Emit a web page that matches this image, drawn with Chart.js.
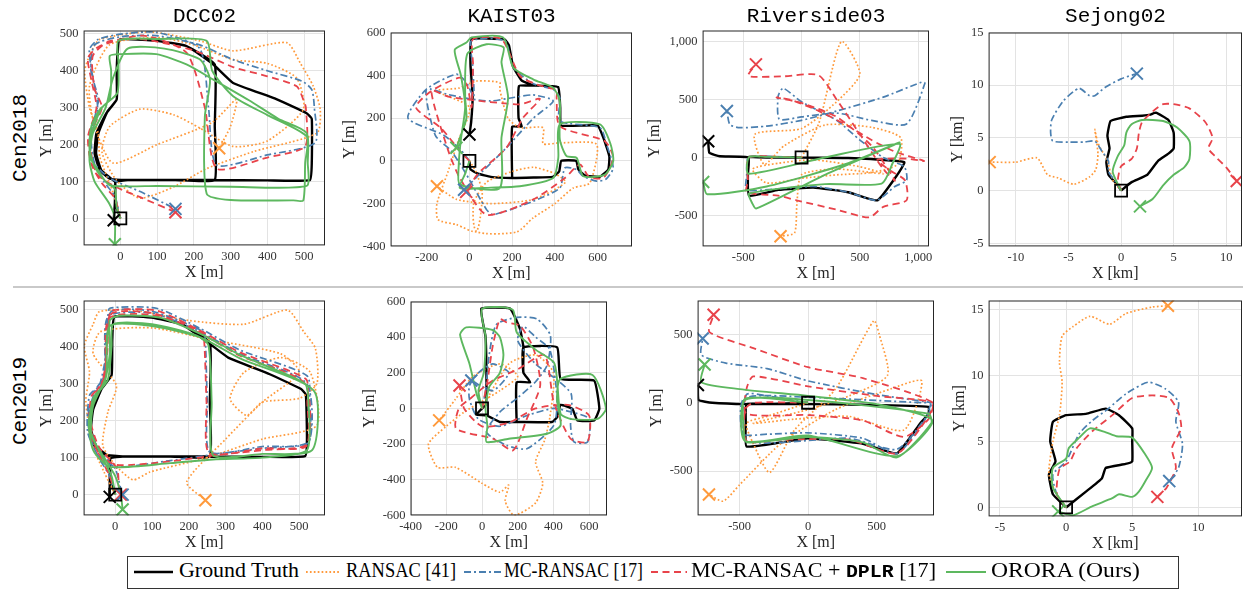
<!DOCTYPE html>
<html>
<head>
<meta charset="utf-8">
<script src="https://cdn.jsdelivr.net/npm/chart.js@4.4.0/dist/chart.umd.min.js"></script>
<style>
  html, body { margin: 0; padding: 0; background: #fff; overflow: hidden; }
  #fig { position: relative; width: 1248px; height: 591px; }
  #fig canvas { position: absolute; }
  .ttl { position: absolute; font: 21px 'Liberation Mono', monospace; color: #000; transform: translate(-50%, -50%); white-space: nowrap; }
  .row { position: absolute; font: 21px 'Liberation Mono', monospace; color: #000; transform: translate(-50%, -50%) rotate(-90deg); white-space: nowrap; }
  .sep { position: absolute; left: 13px; top: 286px; width: 1230px; height: 2px; background: #c9c9c9; }
  .legend { position: absolute; left: 127px; top: 556px; width: 1050px; height: 31px; border: 1px solid #333; background: #fff; }
  .legend svg { position: absolute; top: 10px; }
  .legend span { position: absolute; top: 2px; display: inline-block; font: 20px 'Liberation Serif', serif; color: #000; white-space: nowrap; transform-origin: left center; }
  .legend b { font: 18px 'Liberation Mono', monospace; font-weight: bold; }
</style>
</head>
<body>
<div id="fig"></div>
<script>
// ---- tick labels ----
const dccTicks = [0, 100, 200, 300, 400, 500];
const kaist18XTicks = [-200, 0, 200, 400, 600];
const kaist18YTicks = [-400, -200, 0, 200, 400, 600];
const river18Ticks = [-500, 0, 500, 1000];
const sejong18XTicks = [-10, -5, 0, 5, 10];
const sejong18YTicks = [-5, 0, 5, 10, 15];
const kaist19XTicks = [-400, -200, 0, 200, 400, 600];
const kaist19YTicks = [-600, -400, -200, 0, 200, 400, 600];
const river19Ticks = [-500, 0, 500];
const sejong19XTicks = [-5, 0, 5, 10];
const sejong19YTicks = [0, 5, 10, 15];

// ---- methods ----
const methods = ['Ground Truth', 'RANSAC [41]', 'MC-RANSAC [17]', 'MC-RANSAC + DPLR [17]', 'ORORA (Ours)'];

// ---- Cen2018 / DCC02 ----
const dcc18Gt = [[0,0],[-13,40],[-13,98],[20,104],[150,104],[257,104],[400,103],[516,104],[521,150],[521,270],[507,285],[420,325],[307,367],[253,417],[180,467],[98,481],[-2,484],[-8,420],[-10,322],[-38,285],[-65,231],[-70,176],[-56,131],[-29,108],[20,104],[150,104],[257,104],[257,250],[257,417],[180,467],[98,481],[-2,484],[-10,400],[-10,322],[-35,290],[-60,230],[-66,176],[-52,131],[-25,108],[-14,98],[-15,40],[-18,-5]];
const dcc18Ransac = [[0,0],[-20,70],[-56,167],[-60,230],[-84,300],[-97,399],[-80,450],[-56,485],[80,505],[216,481],[307,454],[453,476],[489,422],[525,358],[544,295],[535,231],[362,181],[235,135],[144,85],[53,55],[-11,104],[-50,180],[-29,249],[53,296],[144,281],[216,245],[307,195],[400,210],[498,295],[480,380],[400,420],[307,430],[200,470],[100,490],[-30,470],[-84,358],[-70,250],[-20,150],[100,200],[250,260],[316,322],[300,250],[269,190]];
const dcc18Mc = [[0,0],[-15,60],[-45,100],[-75,160],[-84,220],[-62,300],[-78,400],[-84,458],[-60,485],[0,499],[98,504],[216,460],[240,300],[262,145],[400,172],[530,205],[528,300],[521,349],[494,372],[400,400],[307,430],[216,470],[98,495],[0,492],[-70,470],[-80,400],[-60,320],[-80,230],[-70,150],[-30,110],[60,70],[150,26]];
const dcc18Dplr = [[0,0],[-15,55],[-50,95],[-80,150],[-88,222],[-65,300],[-80,380],[-88,435],[-56,467],[62,495],[180,449],[230,300],[262,135],[400,165],[503,195],[505,300],[498,322],[480,358],[400,385],[307,410],[200,455],[62,485],[-30,480],[-75,440],[-70,350],[-50,300],[-84,222],[-65,122],[-11,85],[60,55],[150,17]];
const dcc18Orora = [[0,0],[-10,30],[-15,80],[-40,100],[-70,140],[-84,190],[-79,249],[-56,295],[-29,322],[-25,400],[-29,440],[-2,445],[98,445],[180,417],[253,376],[350,320],[430,270],[507,231],[510,150],[507,88],[300,86],[100,88],[-29,90],[-60,130],[-84,170],[-75,240],[-50,300],[-8,340],[-5,420],[-5,482],[100,486],[235,481],[250,400],[307,331],[400,280],[507,222],[503,149],[498,49],[471,49],[300,50],[235,67],[230,276],[244,376],[216,431],[120,460],[20,460],[-20,380],[-40,300],[-75,230],[-84,158],[-70,100],[-30,40],[-15,0],[-15,-70]];

// ---- Cen2018 / KAIST03 ----
const kaist18Gt = [[0,0],[5,-40],[40,-60],[100,-75],[200,-80],[300,-78],[390,-75],[420,-50],[430,0],[500,0],[510,-40],[540,-68],[610,-75],[650,-40],[655,20],[630,100],[600,165],[430,165],[425,250],[415,345],[300,352],[232,350],[230,200],[245,160],[200,160],[200,-80],[200,160],[245,160],[230,200],[232,350],[300,352],[245,375],[205,440],[185,540],[165,568],[10,568],[5,450],[15,300],[8,180],[0,123]];
const kaist18Ransac = [[0,0],[30,-50],[60,-150],[33,-330],[-61,-298],[-147,-275],[-152,-200],[-100,-50],[-50,100],[0,250],[-155,327],[-50,340],[33,373],[142,366],[142,334],[180,200],[236,155],[345,155],[345,80],[423,84],[595,77],[564,-103],[486,-127],[400,-200],[298,-267],[220,-333],[33,-330],[20,-200],[80,-100],[200,-50],[300,-30],[400,-60],[450,-100],[300,-180],[100,-200],[-60,-180],[-152,-119]];
const kaist18Mc = [[0,0],[-40,50],[-120,120],[-288,200],[-202,334],[-61,405],[-14,366],[20,300],[15,450],[9,561],[166,561],[205,436],[300,360],[392,334],[423,295],[423,186],[611,155],[642,77],[673,-33],[640,-85],[595,-95],[530,-70],[502,-41],[447,-33],[423,-127],[298,-189],[111,-252],[80,-228],[-14,-64],[-84,45],[-160,120],[-202,334],[-100,310],[0,290],[100,280],[200,295],[298,308],[392,280],[300,200],[173,61],[60,-50],[-25,-135]];
const kaist18Dplr = [[0,0],[-40,40],[-130,150],[-250,250],[-178,327],[-45,389],[-10,350],[10,250],[17,450],[17,569],[150,569],[236,397],[320,355],[408,330],[408,295],[423,162],[634,92],[673,14],[627,-80],[560,-75],[517,-17],[447,-80],[298,-181],[80,-252],[-45,-80],[-100,50],[-178,327],[-100,300],[48,280],[150,270],[236,264],[330,290],[250,200],[173,61],[40,-60],[-15,-145]];
const kaist18Orora = [[0,0],[-20,-60],[-45,-127],[100,-125],[236,-119],[392,-80],[416,14],[423,170],[611,170],[660,80],[673,-2],[634,-64],[533,-72],[502,14],[455,22],[423,100],[423,280],[392,342],[300,380],[205,436],[158,577],[9,577],[-14,553],[-69,519],[-40,400],[-20,250],[-40,100],[-50,-20],[-45,-110],[142,-127],[150,108],[181,295],[150,460],[160,530],[80,545],[-10,500],[-20,300],[-14,200],[-40,120],[-61,61]];

// ---- Cen2018 / Riverside03 ----
const river18Gt = [[0,0],[-300,5],[-455,5],[-300,0],[0,0],[400,-5],[880,-40],[820,-150],[650,-370],[400,-300],[100,-260],[-200,-280],[-450,-330],[-460,-150],[-455,0],[-700,10],[-790,40],[-800,140]];
const river18Ransac = [[0,0],[150,300],[340,1000],[500,720],[300,480],[0,250],[-400,200],[-320,-60],[-150,100],[200,280],[600,260],[850,170],[820,-60],[600,-130],[300,-150],[0,-180],[-300,-220],[-420,-100],[-200,-50],[100,-20],[500,-80],[700,-140],[300,-100],[0,-150],[-40,-400],[-60,-650],[-180,-680]];
const river18Mc = [[0,0],[-200,5],[-455,0],[-470,-150],[-471,-280],[-200,-270],[100,-250],[400,-300],[643,-369],[800,-250],[900,-197],[880,-80],[700,0],[500,150],[300,320],[0,480],[-157,597],[-200,531],[-191,331],[0,350],[300,383],[600,320],[900,289],[1057,640],[1030,650],[700,520],[300,400],[0,320],[-300,270],[-530,257],[-614,283],[-640,400]];
const river18Dplr = [[0,0],[-200,5],[-455,0],[-460,-200],[-471,-300],[-200,-330],[-43,-369],[300,-450],[580,-517],[700,-426],[900,-369],[886,-197],[757,-111],[650,-20],[900,-10],[1050,-30],[800,50],[600,150],[400,270],[150,400],[-100,500],[-214,517],[0,470],[300,350],[600,100],[800,-200],[700,-100],[500,200],[300,500],[143,711],[-150,700],[-457,703],[-391,803]];
const river18Orora = [[0,0],[-300,5],[-450,3],[-455,-140],[200,0],[840,117],[780,-50],[686,-226],[200,-230],[-449,-311],[-420,-400],[-386,-440],[200,-150],[840,130],[400,-50],[-300,-250],[-809,-317],[-843,-211]];

// ---- Cen2018 / Sejong02 (km) ----
const sejong18Gt = [[0,0],[1,0.8],[2.5,1.5],[3.5,2.8],[4.5,3.5],[5,4],[5,5.5],[4.5,6.7],[3.3,7.4],[2.8,7.2],[2,7.1],[0.5,7],[-1,6.6],[-1.3,5.2],[-1.1,4],[-1.4,2.7],[-1.2,1.5],[-0.3,0.5],[0,0]];
const sejong18Ransac = [[0,0],[-0.8,1],[-1.3,2.8],[-2.2,4.5],[-2.5,5.8],[-2.2,3.5],[-2.4,2],[-3,1.3],[-4.5,0.6],[-6,1.2],[-7,1.5],[-8,3.1],[-10,2.7],[-12.5,2.7]];
const sejong18Mc = [[0,0],[-0.5,0.8],[-1.2,1.8],[-1.2,2.8],[-1.8,3.7],[-2.5,4.7],[-3.5,4.6],[-5,4.6],[-6.5,4.7],[-6.7,5.5],[-6.6,6.7],[-5.5,8.5],[-4,9.7],[-3,9],[-2.5,9],[-1.5,9.8],[0,10.6],[1.5,11.1]];
const sejong18Dplr = [[0,0],[-0.3,1],[0,2.3],[1,3],[1.5,4],[1.7,5.5],[2,6.5],[3,7.5],[4,8.2],[5,8.2],[6.5,7.8],[8,6.5],[8.7,5],[8.3,4],[9,3.2],[10,2.2],[11,0.9]];
const sejong18Orora = [[0,0],[-0.8,1.8],[-0.3,3.3],[0.3,4.3],[0.5,5.5],[1,6.3],[2,6.7],[4,6.6],[5.3,6],[6.5,4.7],[6.5,3],[6,2.2],[5,1.5],[4,0.5],[3,-0.8],[1.8,-1.5]];

// ---- Cen2019 / DCC02 ----
const dcc19Gt = [[0,0],[-13,50],[-13,98],[20,103],[150,103],[257,103],[400,102],[516,104],[521,150],[518,270],[505,285],[420,325],[307,370],[253,410],[180,460],[98,478],[-2,480],[-8,420],[-10,322],[-38,285],[-65,231],[-70,176],[-56,131],[-29,108],[20,103],[150,103],[257,103],[257,250],[257,410],[180,460],[98,478],[-2,480],[-10,400],[-10,322],[-35,290],[-60,230],[-66,176],[-52,131],[-25,108],[-15,98],[-15,40],[-15,-6]];
const dcc19Ransac = [[0,0],[-30,60],[-60,130],[-80,250],[-70,331],[-84,401],[-60,460],[-43,494],[48,498],[200,470],[350,460],[468,498],[512,440],[544,394],[548,300],[500,260],[400,250],[357,214],[312,259],[350,330],[450,370],[530,330],[548,187],[400,150],[250,100],[94,61],[48,40],[0,80],[-34,133],[-20,223],[3,295],[-60,380],[-40,440],[100,450],[250,420],[450,380],[500,330],[400,250],[300,150],[194,34],[245,-15]];
const dcc19Mc = [[0,0],[-15,50],[-43,97],[-75,169],[-70,268],[-43,295],[-25,380],[-20,476],[-15,503],[112,503],[230,449],[339,390],[521,321],[528,250],[525,142],[400,125],[285,111],[150,92],[3,75],[-50,110],[-75,200],[-55,280],[-30,320],[-25,420],[-10,495],[100,495],[239,440],[245,413],[250,250],[257,115],[400,130],[525,140],[520,300],[339,380],[230,440],[100,490],[-20,480],[-30,320],[-75,220],[-50,130],[0,70],[14,20],[20,0]];
const dcc19Dplr = [[0,0],[-15,50],[-40,100],[-70,169],[-65,265],[-38,295],[-22,380],[-18,470],[-10,497],[112,497],[230,443],[339,384],[518,312],[522,250],[520,135],[400,120],[285,108],[150,90],[5,80],[-45,110],[-70,200],[-50,280],[-28,320],[-22,420],[-8,490],[100,490],[235,438],[242,410],[248,250],[255,112],[400,125],[520,132],[515,300],[339,375],[230,436],[100,485],[-18,475],[-28,320],[-70,220],[-45,130],[5,70],[10,20],[15,0]];
const dcc19Orora = [[0,0],[-10,50],[-35,100],[-70,180],[-60,260],[-30,300],[-15,380],[-15,470],[10,483],[120,478],[240,430],[339,377],[515,300],[525,250],[521,120],[400,100],[266,95],[150,85],[-15,75],[-60,120],[-72,200],[-50,270],[-20,310],[-10,400],[-5,460],[100,460],[220,430],[253,404],[262,250],[266,106],[400,110],[535,120],[540,280],[339,368],[230,425],[100,455],[-15,455],[-25,320],[-60,240],[-65,160],[-30,100],[0,50],[15,0],[20,-40]];

// ---- Cen2019 / KAIST03 ----
const kaist19Gt = [[0,0],[-32,-35],[25,-39],[100,-76],[200,-76],[392,-76],[421,-48],[440,20],[506,-2],[534,-67],[628,-67],[657,-2],[628,156],[440,166],[421,343],[232,343],[232,200],[270,147],[194,147],[194,-76],[194,147],[270,147],[232,200],[232,343],[213,445],[157,560],[-4,560],[20,400],[25,100],[20,20],[0,0]];
const kaist19Ransac = [[0,0],[150,250],[300,300],[400,200],[380,-50],[350,-180],[300,-300],[340,-420],[300,-530],[180,-600],[130,-520],[150,-430],[100,-470],[0,-420],[-150,-330],[-250,-330],[-300,-200],[-200,-100],[-100,-20],[0,40],[100,100],[200,180],[100,250],[-50,180],[-150,50],[-240,-67]];
const kaist19Mc = [[0,0],[20,100],[40,300],[80,470],[194,511],[308,502],[383,409],[364,241],[300,150],[200,60],[100,-20],[25,-132],[138,-207],[251,-226],[402,-95],[420,60],[380,330],[300,400],[230,460],[200,380],[300,250],[420,160],[500,80],[496,-95],[515,-188],[591,-188],[600,-58],[500,-20],[400,0],[250,-40],[100,-100],[-20,-60],[-70,50],[-70,129],[-20,200],[60,250],[150,200],[60,100],[-60,157]];
const kaist19Dplr = [[0,0],[30,150],[60,350],[100,500],[138,483],[213,464],[289,334],[326,129],[251,-58],[175,-235],[62,-170],[-145,-114],[-130,0],[-60,60],[50,150],[200,220],[350,300],[402,35],[496,-170],[591,-188],[600,-40],[480,20],[300,0],[150,-80],[0,-100],[-100,0],[-126,129]];
const kaist19Orora = [[0,0],[-30,80],[-70,250],[-123,414],[-89,455],[60,440],[100,400],[120,300],[100,200],[40,120],[20,0],[30,-100],[25,-188],[150,-170],[364,-142],[440,-95],[420,50],[440,166],[619,188],[694,0],[647,-58],[500,-60],[440,-30],[420,166],[402,259],[300,330],[194,427],[172,554],[0,558],[20,400],[10,200],[-20,100],[0,0]];

// ---- Cen2019 / Riverside03 ----
const river19Gt = [[0,0],[-300,-10],[-450,-10],[-455,-150],[-450,-320],[-200,-290],[0,-260],[400,-300],[650,-370],[820,-150],[880,-80],[880,-30],[400,-15],[0,-10],[-450,-10],[-700,0],[-800,20],[-805,130]];
const river19Ransac = [[0,0],[-300,-100],[-450,-150],[-400,-300],[-280,-510],[-100,-200],[200,100],[480,600],[520,500],[580,200],[300,50],[0,-50],[-400,-150],[-100,-120],[300,-100],[700,-200],[830,160],[600,100],[200,-50],[-200,-300],[-500,-600],[-620,-720],[-724,-671]];
const river19Mc = [[0,0],[-300,50],[-450,60],[-476,-227],[-300,-230],[0,-220],[400,-260],[650,-370],[850,-130],[900,0],[880,-80],[650,-340],[300,-260],[-450,-280],[-470,30],[0,40],[900,0],[500,60],[0,160],[-300,250],[-600,290],[-780,350],[-770,470]];
const river19Dplr = [[0,0],[-400,0],[-460,-50],[-450,-280],[-200,-270],[300,-270],[650,-370],[880,-100],[915,0],[500,50],[0,120],[-400,193],[-450,100],[-451,-80],[0,-90],[400,-130],[700,-250],[880,-120],[915,0],[400,180],[0,260],[-400,400],[-720,517],[-690,644]];
const river19Orora = [[0,0],[-460,30],[-470,-200],[-450,-290],[0,-250],[400,-290],[650,-400],[900,-150],[880,-80],[0,20],[-460,20],[-460,-280],[0,-240],[650,-390],[910,-130],[500,-10],[0,50],[-500,100],[-780,150],[-756,280]];

// ---- Cen2019 / Sejong02 (km) ----
const sejong19Gt = [[0,0],[1.5,1.2],[2.7,2.2],[3,3],[4.5,3.3],[5,3.5],[5,5],[5,6],[4,7],[3,7.5],[1.5,7.1],[0,7],[-1,6.5],[-1.2,5],[-0.8,3.5],[-1.3,2.5],[-1,1],[0,0]];
const sejong19Ransac = [[0,0],[-0.7,1],[-1.3,2.5],[-1,5],[-0.5,7],[-0.3,9.5],[-0.5,11],[-0.3,13],[0.5,13.7],[1.8,14.5],[3.3,13.9],[4.5,14.7],[6.5,15.2],[7.7,15.3]];
const sejong19Mc = [[0,0],[-0.7,1],[-1,2.5],[0,3.5],[1,5.6],[2,6.6],[3.2,7.5],[4.5,8.6],[6.2,9.5],[7.5,9],[8.5,8],[8.3,6.5],[8.8,4.8],[8.5,3],[7.8,2]];
const sejong19Dplr = [[0,0],[-0.7,1],[-0.5,2.9],[0.3,3.5],[0.8,4.5],[2,5.8],[3.5,7],[5,8.3],[6.5,8.5],[7.8,8.3],[8.5,7.2],[8.7,6],[8,4.5],[8.3,3],[7.6,1.5],[6.9,0.8]];
const sejong19Orora = [[0,0],[-1,1.5],[-1,3],[0,3.7],[0.2,4.5],[1,5.3],[1.8,6],[3,5.7],[3.8,5.4],[5,5.3],[6,4],[6.5,3],[6,2],[5.5,1.2],[5,0.8],[4,1],[3.5,0.7],[2,0.1],[0.5,-0.6],[-0.6,-0.3]];

// ---- styles ----
const styles = [
  { color: '#000000', width: 2.4, dash: [] },
  { color: '#ff9a3c', width: 1.7, dash: [1.7, 2.2] },
  { color: '#4a7fb0', width: 1.7, dash: [7, 3, 2, 3] },
  { color: '#e8434a', width: 1.8, dash: [7, 4.5] },
  { color: '#5db85f', width: 1.9, dash: [] },
];

// rect = [left, top, right, bottom] of plot box; ylab = distance of Y title from box
const panels = [
  { rect: [84, 30, 325, 245], xr: [-100, 557], yr: [-73, 509], xt: dccTicks, yt: dccTicks, unit: 'm', ylab: 37,
    series: [dcc18Gt, dcc18Ransac, dcc18Mc, dcc18Dplr, dcc18Orora] },
  { rect: [391, 32, 632, 246], xr: [-369, 761], yr: [-400, 600], xt: kaist18XTicks, yt: kaist18YTicks, unit: 'm', ylab: 41,
    series: [kaist18Gt, kaist18Ransac, kaist18Mc, kaist18Dplr, kaist18Orora] },
  { rect: [703, 30, 929, 246], xr: [-848, 1092], yr: [-767, 1095], xt: river18Ticks, yt: river18Ticks, unit: 'm', ylab: 48,
    series: [river18Gt, river18Ransac, river18Mc, river18Dplr, river18Orora] },
  { rect: [989, 32, 1242, 246], xr: [-12.6, 11.5], yr: [-5.3, 15], xt: sejong18XTicks, yt: sejong18YTicks, unit: 'km', ylab: 31,
    series: [sejong18Gt, sejong18Ransac, sejong18Mc, sejong18Dplr, sejong18Orora] },
  { rect: [84, 300, 325, 515], xr: [-86, 570], yr: [-56, 524], xt: dccTicks, yt: dccTicks, unit: 'm', ylab: 37,
    series: [dcc19Gt, dcc19Ransac, dcc19Mc, dcc19Dplr, dcc19Orora] },
  { rect: [411, 301, 607, 515], xr: [-400, 700], yr: [-600, 600], xt: kaist19XTicks, yt: kaist19YTicks, unit: 'm', ylab: 41,
    series: [kaist19Gt, kaist19Ransac, kaist19Mc, kaist19Dplr, kaist19Orora] },
  { rect: [698, 300, 934, 515], xr: [-807, 920], yr: [-824, 748], xt: river19Ticks, yt: river19Ticks, unit: 'm', ylab: 41,
    series: [river19Gt, river19Ransac, river19Mc, river19Dplr, river19Orora] },
  { rect: [989, 300, 1242, 516], xr: [-5.86, 13.3], yr: [-0.68, 15.7], xt: sejong19XTicks, yt: sejong19YTicks, unit: 'km', ylab: 29,
    series: [sejong19Gt, sejong19Ransac, sejong19Mc, sejong19Dplr, sejong19Orora] },
];

const fig = document.getElementById('fig');
const TITLE_FONT = { family: "'Liberation Serif', serif", size: 16 };
const TICK_FONT = { family: "'Liberation Serif', serif", size: 12.5 };
const PAD_TOP = 12, PAD_RIGHT = 22, X_AXIS_H = 36.6;

// draws the full axes box on top of the data (matlab style)
const boxPlugin = {
  id: 'box',
  afterDraw(chart) {
    const { ctx, chartArea: a } = chart;
    ctx.save();
    ctx.strokeStyle = '#262626';
    ctx.lineWidth = 1;
    ctx.strokeRect(a.left + 0.5, a.top + 0.5, a.right - a.left - 1, a.bottom - a.top - 1);
    ctx.restore();
  }
};

const toPts = arr => arr.map(([x, y]) => ({ x, y }));

panels.forEach(p => {
  const [L, T, R, B] = p.rect;
  const yAxisW = p.ylab + 9.6;
  const cv = document.createElement('canvas');
  const w = Math.round(yAxisW + (R - L) + PAD_RIGHT);
  const h = Math.round(PAD_TOP + (B - T) + X_AXIS_H);
  cv.width = w; cv.height = h;
  cv.style.left = (L - yAxisW) + 'px';
  cv.style.top = (T - PAD_TOP) + 'px';
  cv.style.width = w + 'px'; cv.style.height = h + 'px';
  fig.appendChild(cv);

  const datasets = [];
  p.series.forEach((s, i) => {
    const st = styles[i];
    datasets.push({
      label: methods[i], data: toPts(s), showLine: true,
      borderColor: st.color, borderWidth: st.width, borderDash: st.dash, borderCapStyle: 'butt',
      pointRadius: 0, tension: i === 0 ? 0.12 : 0.22, order: 10 - i,
    });
  });
  // end markers (x) for every trajectory that does not end at the origin
  p.series.forEach((s, i) => {
    const last = s[s.length - 1];
    if (last[0] === 0 && last[1] === 0) return;
    datasets.push({
      data: toPts([last]), showLine: false, pointStyle: 'crossRot', pointRadius: 8.5,
      pointBorderWidth: 2, pointBorderColor: styles[i].color, pointBackgroundColor: 'rgba(0,0,0,0)', order: 1,
    });
  });
  // start marker (square at origin)
  datasets.push({
    data: [{ x: 0, y: 0 }], showLine: false, pointStyle: 'rect', pointRadius: 8.5,
    pointBorderWidth: 1.8, pointBorderColor: '#000', pointBackgroundColor: 'rgba(0,0,0,0)', order: 0,
  });

  const axis = (range, ticks, title, isX) => ({
    type: 'linear', min: range[0], max: range[1],
    afterBuildTicks: sc => { sc.ticks = ticks.map(v => ({ value: v })); },
    afterFit: sc => { if (isX) sc.height = X_AXIS_H; else sc.width = yAxisW; },
    grid: { color: '#e3e3e3', lineWidth: 1, drawTicks: false },
    border: { display: false },
    ticks: { font: TICK_FONT, color: '#333', padding: isX ? 4 : 5, maxRotation: 0, autoSkip: false,
             callback: v => v.toLocaleString('en-US') },
    title: { display: true, text: title, font: TITLE_FONT, color: '#262626', padding: 0 },
  });

  new Chart(cv, {
    type: 'scatter',
    data: { datasets },
    options: {
      responsive: false, animation: false, devicePixelRatio: 1,
      layout: { padding: { left: 0, top: PAD_TOP, right: PAD_RIGHT, bottom: 0 } },
      plugins: { legend: { display: false }, tooltip: { enabled: false } },
      scales: {
        x: axis(p.xr, p.xt, 'X [' + p.unit + ']', true),
        y: axis(p.yr, p.yt, 'Y [' + p.unit + ']', false),
      },
    },
    plugins: [boxPlugin],
  });
});

// ---- column titles, row labels, separator ----
const colTitles = ['DCC02', 'KAIST03', 'Riverside03', 'Sejong02'];
const rowTitles = ['Cen2018', 'Cen2019'];
colTitles.forEach((t, i) => {
  const [L, , R] = panels[i].rect;
  const d = document.createElement('div');
  d.className = 'ttl'; d.textContent = t;
  d.style.left = ((L + R) / 2) + 'px'; d.style.top = '16px';
  fig.appendChild(d);
});
[138, 401].forEach((y, i) => {
  const d = document.createElement('div');
  d.className = 'row'; d.textContent = rowTitles[i];
  d.style.left = '20px'; d.style.top = y + 'px';
  fig.appendChild(d);
});
const sep = document.createElement('div');
sep.className = 'sep';
fig.appendChild(sep);

// ---- legend ----
const legend = document.createElement('div');
legend.className = 'legend';
fig.appendChild(legend);
const sampleX = [6, 178, 336, 523, 818];
const sampleW = [39, 35, 37, 36, 40];
const textX = [51, 218, 376, 563, 863];
const textW = [120, 110, 139, 245, 182];
methods.forEach((m, i) => {
  const st = styles[i];
  const svg = document.createElementNS('http://www.w3.org/2000/svg', 'svg');
  svg.setAttribute('width', sampleW[i]); svg.setAttribute('height', 10);
  svg.style.left = sampleX[i] + 'px';
  const ln = document.createElementNS('http://www.w3.org/2000/svg', 'line');
  ln.setAttribute('x1', 0); ln.setAttribute('x2', sampleW[i]);
  ln.setAttribute('y1', 5); ln.setAttribute('y2', 5);
  ln.setAttribute('stroke', st.color); ln.setAttribute('stroke-width', i === 0 ? 2.6 : 2.2);
  if (st.dash.length) ln.setAttribute('stroke-dasharray', st.dash.join(' '));
  svg.appendChild(ln);
  legend.appendChild(svg);
  const sp = document.createElement('span');
  sp.style.left = textX[i] + 'px';
  if (i === 3) sp.innerHTML = 'MC-RANSAC + <b>DPLR</b> [17]';
  else sp.textContent = m;
  legend.appendChild(sp);
  const natural = sp.getBoundingClientRect().width;
  if (natural > 0) {
    const k = Math.min(1.18, Math.max(0.85, textW[i] / natural));
    sp.style.transform = 'scaleX(' + k.toFixed(3) + ')';
  }
});
</script>
</body>
</html>
